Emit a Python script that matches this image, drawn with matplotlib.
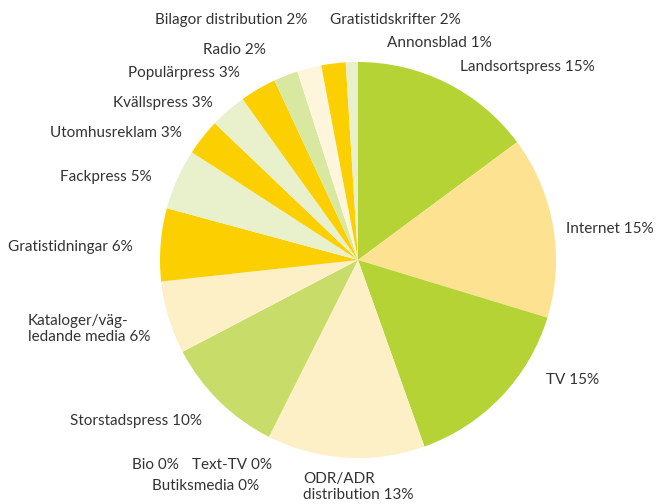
import matplotlib
matplotlib.use("Agg")
import matplotlib.pyplot as plt

# media shares (%), clockwise from 12 o'clock
media = ["Landsortspress", "Internet", "TV", "ODR/ADR\ndistribution", "Bio", "Text-TV",
         "Butiksmedia", "Storstadspress", "Kataloger/väg-\nledande media", "Gratistidningar",
         "Fackpress", "Utomhusreklam", "Kvällspress", "Populärpress", "Radio",
         "Bilagor distribution", "Gratistidskrifter", "Annonsblad"]
share = [15, 15, 15, 13, 0, 0, 0, 10, 6, 6, 5, 3, 3, 3, 2, 2, 2, 1]

colors = ["#b5d334", "#fde292", "#b5d334", "#fdf0c6", "#fdf0c6", "#fdf0c6",
          "#fdf0c6", "#c8dc6a", "#fdf0c6", "#fccf00", "#e8f0cc", "#fccf00",
          "#e8f0cc", "#fccf00", "#d8e8a0", "#fef6dc", "#fccf00", "#e8f0cc"]

# label anchor (pixel x, pixel y from top, horizontal alignment)
label_pos = [(460, 67, "left"), (654, 229, "right"), (546, 380, "left"), (303, 487, "left"),
             (132, 465, "left"), (192, 465, "left"), (152, 486, "left"), (70, 421, "left"),
             (28, 329, "left"), (8, 247, "left"), (60, 177, "left"), (50, 133, "left"),
             (113, 103, "left"), (128, 73, "left"), (266, 50, "right"), (155, 20, "left"),
             (330, 20, "left"), (387, 43, "left")]

W, H = 656, 504
fig = plt.figure(figsize=(W / 100, H / 100), dpi=100)
ax = fig.add_axes([0, 0, 1, 1])

ax.pie(share, colors=colors, startangle=90, counterclock=False,
       center=(358, H - 260), radius=198, normalize=True,
       wedgeprops=dict(linewidth=0), frame=True)
ax.set_xlim(0, W)
ax.set_ylim(0, H)
ax.set_aspect("equal")
ax.axis("off")

for name, val, (x, y, ha) in zip(media, share, label_pos):
    ax.text(x, H - y, f"{name} {val}%", ha=ha, va="center", fontsize=11,
            family="Lato", color="#333333", linespacing=1.2)

fig.savefig("out.png", dpi=100)
